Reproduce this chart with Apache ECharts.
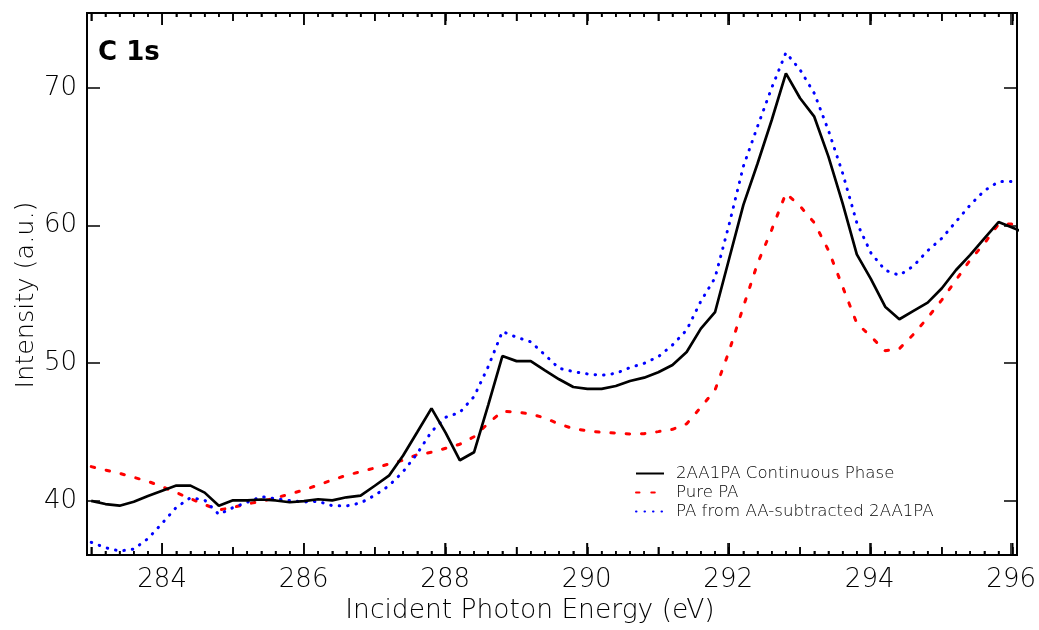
<!DOCTYPE html>
<html>
<head>
<meta charset="utf-8">
<script src="https://cdn.jsdelivr.net/npm/echarts@6.0.0/dist/echarts.min.js"></script>
<style>
  html, body { margin: 0; padding: 0; background: #fff; }
  #chart { width: 1039px; height: 630px; }
</style>
</head>
<body>
<div id="chart"></div>
<script>
// incident photon energy (eV)
const energy = [
  283.0, 283.2, 283.4, 283.6, 283.8, 284.0, 284.2, 284.4, 284.6, 284.8,
  285.0, 285.2, 285.4, 285.6, 285.8, 286.0, 286.2, 286.4, 286.6, 286.8,
  287.0, 287.2, 287.4, 287.6, 287.8, 288.0, 288.2, 288.4, 288.6, 288.8,
  289.0, 289.2, 289.4, 289.6, 289.8, 290.0, 290.2, 290.4, 290.6, 290.8,
  291.0, 291.2, 291.4, 291.6, 291.8, 292.0, 292.2, 292.4, 292.6, 292.8,
  293.0, 293.2, 293.4, 293.6, 293.8, 294.0, 294.2, 294.4, 294.6, 294.8,
  295.0, 295.2, 295.4, 295.6, 295.8, 296.0, 296.2,
];

const continuousPhase = [
  40.0, 39.77, 39.65, 39.94, 40.36, 40.74, 41.11, 41.11, 40.6, 39.65,
  40.04, 40.04, 40.1, 40.03, 39.9, 39.98, 40.12, 40.04, 40.26, 40.38,
  41.1, 41.83, 43.3, 45.0, 46.72, 44.94, 42.95, 43.53, 46.96, 50.52,
  50.15, 50.15, 49.48, 48.83, 48.27, 48.13, 48.13, 48.34, 48.71, 48.95,
  49.34, 49.87, 50.81, 52.51, 53.7, 57.6, 61.5, 64.5, 67.66, 71.05,
  69.24, 67.9, 65.0, 61.6, 57.9, 56.1, 54.1, 53.19, 53.8, 54.4,
  55.44, 56.77, 57.86, 59.07, 60.25, 59.84, 59.4,
];

const purePA = [
  42.49, 42.24, 42.0, 41.71, 41.42, 41.03, 40.6, 40.16, 39.73, 39.34,
  39.53, 39.78, 39.97, 40.21, 40.5, 40.79, 41.15, 41.52, 41.86, 42.12,
  42.39, 42.68, 42.95, 43.36, 43.53, 43.82, 44.11, 44.66, 45.63, 46.5,
  46.46, 46.31, 46.02, 45.58, 45.25, 45.08, 44.98, 44.93, 44.86, 44.88,
  45.03, 45.2, 45.6, 46.8, 48.05, 50.9, 54.1, 57.25, 59.7, 62.34,
  61.4, 60.2, 58.2, 55.55, 52.9, 51.93, 50.9, 51.05, 52.1, 53.3,
  54.6, 56.04, 57.5, 58.7, 60.1, 60.1, null,
];

const subtractedPA = [
  36.99, 36.6, 36.36, 36.5, 37.26, 38.37, 39.53, 40.23, 40.06, 39.02,
  39.51, 39.9, 40.31, 40.16, 40.02, 39.92, 39.97, 39.65, 39.63, 39.85,
  40.4, 41.1, 42.12, 43.45, 45.03, 46.07, 46.43, 47.57, 49.75, 52.3,
  51.88, 51.55, 50.6, 49.63, 49.39, 49.22, 49.12, 49.26, 49.68, 49.99,
  50.47, 51.32, 52.41, 54.5, 56.2, 60.1, 64.3, 67.2, 70.0, 72.55,
  71.3, 69.6, 66.9, 63.8, 60.2, 58.0, 56.75, 56.38, 57.06, 58.17,
  59.07, 60.28, 61.49, 62.53, 63.18, 63.2, null,
];

// tick label ranges: x labels 284..296 step 2, y labels 40..70 step 10
const xLabelFirst = 284;
const xLabelLast = 296;
const yLabelFirst = 40;
const yLabelLast = 70;

const seriesNames = ["2AA1PA Continuous Phase", "Pure PA", "PA from AA-subtracted 2AA1PA"];

// plot frame
const X_MIN = 282.94;
const X_MAX = 296.06;
const Y_MIN = 36.07;
const Y_MAX = 75.43;
const FRAME = { left: 87, right: 22, top: 13, bottom: 75 };
const W = 1039 - FRAME.left - FRAME.right;
const H = 630 - FRAME.top - FRAME.bottom;
const pxPerX = W / (X_MAX - X_MIN);
const pxPerY = H / (Y_MAX - Y_MIN);

const FONT = "DejaVu Sans";
const BLACK = "#000";

// x tick positions every 0.2 eV, 283..296 (long at even, medium at odd eV)
const xTickValues = [];
for (let i = 0; i <= 65; i += 1) {
  xTickValues.push(Math.round((283 + i * 0.2) * 10) / 10);
}

function tickLength(v) {
  if (Math.abs(v / 2 - Math.round(v / 2)) < 1e-6) return 12;
  if (Math.abs(v - Math.round(v)) < 1e-6) return 8;
  return 4;
}

// extra grids whose edges sit on round values, so interval ticks start there
function xTickGrid(from, to) {
  return {
    left: FRAME.left + (from - X_MIN) * pxPerX,
    right: FRAME.right + (X_MAX - to) * pxPerX,
    top: FRAME.top,
    bottom: FRAME.bottom,
  };
}
function yTickGrid(from, to) {
  return {
    left: FRAME.left,
    right: FRAME.right,
    top: FRAME.top + (Y_MAX - to) * pxPerY,
    bottom: FRAME.bottom + (from - Y_MIN) * pxPerY,
  };
}

function hiddenAxis(gridIndex, min, max) {
  const axis = { type: "value", gridIndex: gridIndex, show: false };
  if (min != null) {
    axis.min = min;
    axis.max = max;
  }
  return axis;
}

function tickAxis(gridIndex, position, min, max, interval, length, withLabel, labelMargin) {
  return {
    type: "value",
    gridIndex: gridIndex,
    position: position,
    min: min,
    max: max,
    interval: interval,
    axisLine: { show: false },
    axisTick: { show: true, inside: true, length: length, lineStyle: { color: BLACK, width: 1.5 } },
    axisLabel: withLabel
      ? { show: true, color: BLACK, fontFamily: FONT, fontWeight: 200, fontSize: 26, margin: labelMargin }
      : { show: false },
    splitLine: { show: false },
  };
}

function pairs(values) {
  return energy.map((e, i) => [e, values[i]]);
}

const textGraphics = [
  {
    type: "text",
    left: 98,
    top: 40,
    style: { text: "C 1s", fill: BLACK, font: "bold 26px 'DejaVu Sans'" },
  },
  {
    type: "text",
    x: 26,
    y: 295,
    rotation: Math.PI / 2,
    style: {
      text: "Intensity (a.u.)",
      fill: BLACK,
      font: "200 25.5px 'DejaVu Sans'",
      align: "center",
      verticalAlign: "middle",
    },
  },
  {
    type: "text",
    x: 530,
    y: 611,
    style: {
      text: "Incident Photon Energy (eV)",
      fill: BLACK,
      font: "200 26.5px 'DejaVu Sans'",
      align: "center",
      verticalAlign: "middle",
    },
  },
];

const chart = echarts.init(document.getElementById("chart"));

const option = {
  animation: false,
  grid: [
    Object.assign({ show: true, borderColor: BLACK, borderWidth: 2, backgroundColor: "transparent" }, FRAME),
    xTickGrid(283, 296),
    xTickGrid(283, 296),
    xTickGrid(xLabelFirst, xLabelLast),
    yTickGrid(yLabelFirst, yLabelLast),
  ],
  xAxis: [
    hiddenAxis(0, X_MIN, X_MAX),
    tickAxis(1, "bottom", 283, 296, 0.2, 4, false),
    tickAxis(1, "top", 283, 296, 0.2, 4, false),
    tickAxis(2, "bottom", 283, 296, 1, 8, false),
    tickAxis(2, "top", 283, 296, 1, 8, false),
    tickAxis(3, "bottom", xLabelFirst, xLabelLast, 2, 12, true, 12),
    tickAxis(3, "top", xLabelFirst, xLabelLast, 2, 12, false),
    hiddenAxis(4),
  ],
  yAxis: [
    hiddenAxis(0, Y_MIN, Y_MAX),
    hiddenAxis(1),
    hiddenAxis(2),
    hiddenAxis(3),
    tickAxis(4, "left", yLabelFirst, yLabelLast, 10, 13, true, 10),
    tickAxis(4, "right", yLabelFirst, yLabelLast, 10, 13, false),
  ],
  legend: {
    orient: "vertical",
    left: 635,
    top: 465,
    padding: 0,
    itemWidth: 28,
    itemHeight: 10,
    itemGap: 2,
    itemStyle: { opacity: 0 },
    textStyle: {
      color: BLACK,
      fontFamily: FONT,
      fontWeight: 200,
      fontSize: 16.6,
      lineHeight: 17,
      padding: [0, 0, 0, 7],
    },
    data: seriesNames,
  },
  graphic: textGraphics,
  series: [
    {
      name: seriesNames[0],
      type: "line",
      xAxisIndex: 0,
      yAxisIndex: 0,
      data: pairs(continuousPhase),
      symbol: "none",
      clip: true,
      lineStyle: { color: BLACK, width: 2.7, type: "solid" },
      itemStyle: { color: BLACK },
      z: 3,
    },
    {
      name: seriesNames[1],
      type: "line",
      xAxisIndex: 0,
      yAxisIndex: 0,
      data: pairs(purePA),
      symbol: "none",
      clip: true,
      lineStyle: { color: "#ff0000", width: 3, type: [3.5, 11.8], cap: "round" },
      itemStyle: { color: "#ff0000" },
      z: 2,
    },
    {
      name: seriesNames[1 + 1],
      type: "line",
      xAxisIndex: 0,
      yAxisIndex: 0,
      data: pairs(subtractedPA),
      symbol: "none",
      clip: true,
      lineStyle: { color: "#0000ff", width: 3, type: [0.5, 8], cap: "round" },
      itemStyle: { color: "#0000ff" },
      z: 2,
    },
  ],
};

chart.setOption(option);

// inward x ticks on bottom and top edges as thin filled bars, placed through the frame scales
const tickGraphics = [];
xTickValues.forEach((v) => {
  const len = tickLength(v);
  const bottom = chart.convertToPixel({ gridIndex: 0 }, [v, Y_MIN]);
  const top = chart.convertToPixel({ gridIndex: 0 }, [v, Y_MAX]);
  if (!bottom || !top) return;
  tickGraphics.push({
    type: "rect",
    z: 100,
    silent: true,
    shape: { x: bottom[0] - 0.75, y: bottom[1] - len, width: 1.5, height: len },
    style: { fill: BLACK, stroke: null, lineDash: null },
  });
  tickGraphics.push({
    type: "rect",
    z: 100,
    silent: true,
    shape: { x: top[0] - 0.75, y: top[1], width: 1.5, height: len },
    style: { fill: BLACK, stroke: null, lineDash: null },
  });
});

chart.setOption({ graphic: textGraphics.concat(tickGraphics) });
</script>
</body>
</html>
